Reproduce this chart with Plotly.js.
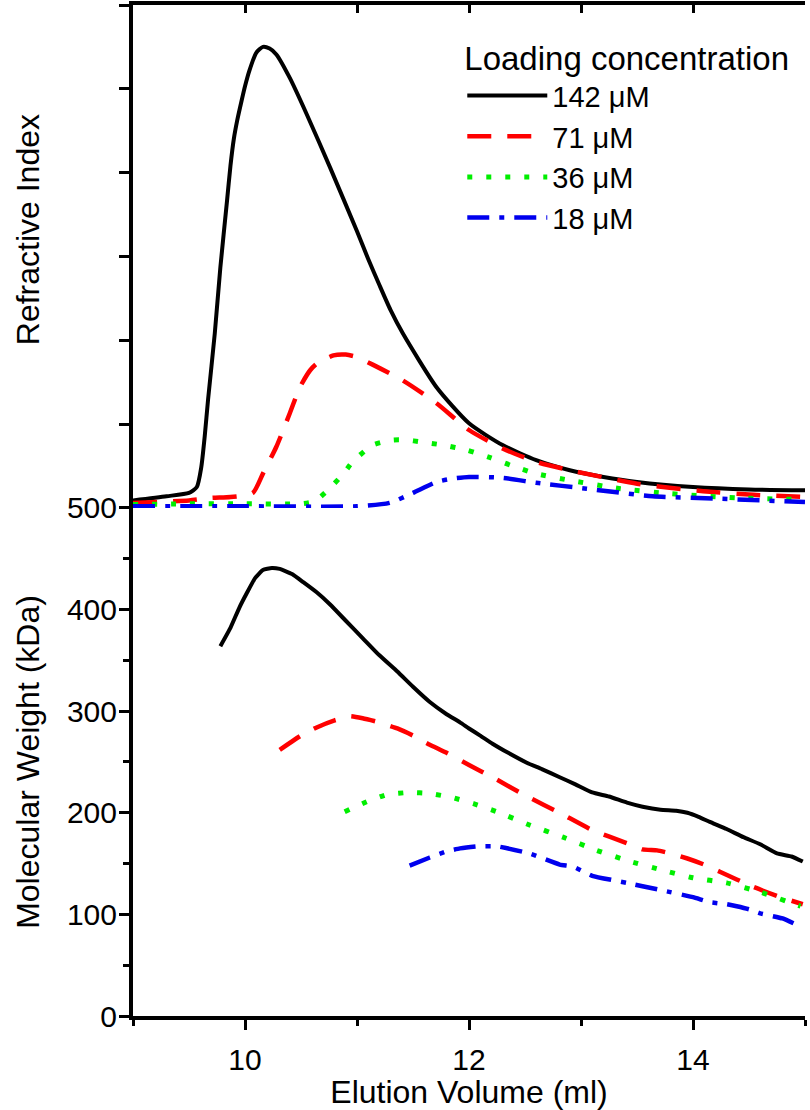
<!DOCTYPE html>
<html>
<head>
<meta charset="utf-8">
<script src="https://cdn.plot.ly/plotly-3.0.1.min.js"></script>
<style>
  html, body { margin: 0; padding: 0; background: #fff; }
  #chart { width: 810px; height: 1110px; }
</style>
</head>
<body>
<div id="chart"></div>
<script>
// ---------- Data ----------
const seriesNames = ['142 μM', '71 μM', '36 μM', '18 μM'];

// Top panel: refractive index (arbitrary units, tick spacing = 1)
const ri_x_142 = [9.0, 9.3, 9.5, 9.57, 9.61, 9.64, 9.67, 9.73, 9.78, 9.84, 9.87, 9.9, 9.93, 9.97, 10.0, 10.04, 10.1, 10.16, 10.22, 10.28, 10.4, 10.55, 10.76, 11.0, 11.1, 11.2, 11.3, 11.41, 11.71, 12.0, 12.3, 12.6, 12.9, 13.2, 13.5, 14.0, 14.5, 15.0];
const ri_y_142 = [0.09, 0.14, 0.18, 0.25, 0.49, 0.85, 1.29, 2.08, 2.87, 3.67, 4.08, 4.40, 4.62, 4.86, 5.03, 5.22, 5.43, 5.50, 5.48, 5.41, 5.13, 4.70, 4.06, 3.30, 2.97, 2.66, 2.36, 2.08, 1.44, 1.01, 0.75, 0.57, 0.45, 0.37, 0.31, 0.25, 0.22, 0.21];

const ri_x_71 = [9.0, 9.5, 9.7, 9.87, 10.07, 10.16, 10.28, 10.40, 10.49, 10.58, 10.64, 10.79, 10.9, 11.0, 11.14, 11.41, 11.71, 12.0, 12.3, 12.6, 12.9, 13.5, 14.09, 14.5, 15.0];
const ri_y_71 = [0.06, 0.09, 0.12, 0.13, 0.18, 0.41, 0.73, 1.13, 1.44, 1.64, 1.72, 1.82, 1.83, 1.80, 1.71, 1.52, 1.25, 0.93, 0.71, 0.55, 0.45, 0.29, 0.20, 0.16, 0.13];

const ri_x_36 = [9.0, 9.5, 10.0, 10.5, 10.62, 10.73, 10.88, 10.96, 11.14, 11.32, 11.45, 11.56, 11.77, 11.98, 12.19, 12.37, 12.6, 12.9, 13.35, 13.8, 14.39, 15.0];
const ri_y_36 = [0.04, 0.05, 0.05, 0.05, 0.08, 0.20, 0.41, 0.55, 0.75, 0.81, 0.81, 0.79, 0.75, 0.69, 0.60, 0.51, 0.41, 0.33, 0.23, 0.17, 0.12, 0.10];

const ri_x_18 = [9.0, 10.0, 11.0, 11.29, 11.5, 11.71, 11.85, 12.0, 12.3, 12.6, 13.05, 13.64, 14.24, 15.0];
const ri_y_18 = [0.02, 0.02, 0.02, 0.06, 0.18, 0.31, 0.35, 0.37, 0.36, 0.30, 0.23, 0.14, 0.11, 0.07];

// Bottom panel: molecular weight (kDa)
const mw_x_142 = [9.78, 9.87, 9.95, 10.02, 10.09, 10.16, 10.24, 10.31, 10.42, 10.52, 10.64, 10.76, 10.9, 11.05, 11.2, 11.36, 11.5, 11.65, 11.8, 11.92, 12.0, 12.1, 12.21, 12.35, 12.52, 12.65, 12.81, 12.95, 13.1, 13.25, 13.41, 13.55, 13.71, 13.85, 13.95, 14.05, 14.15, 14.3, 14.45, 14.6, 14.75, 14.88, 14.98];
const mw_y_142 = [364, 382, 402, 417, 431, 439, 441, 440, 435, 427, 417, 405, 389, 372, 355, 339, 324, 309, 297, 289, 283, 276, 268, 259, 249, 243, 235, 228, 220, 216, 210, 206, 203, 202, 200, 196, 191, 184, 176, 169, 160, 157, 152];

const mw_x_71 = [10.31, 10.5, 10.64, 10.8, 10.94, 11.05, 11.2, 11.36, 11.5, 11.65, 11.8, 12.0, 12.21, 12.52, 12.81, 13.1, 13.41, 13.55, 13.68, 13.8, 13.95, 14.1, 14.24, 14.54, 14.78, 14.98];
const mw_y_71 = [262, 276, 284, 291, 295, 293, 289, 283, 276, 267, 259, 247, 235, 216, 200, 183, 170, 164, 163, 160, 155, 149, 142, 127, 117, 110];

const mw_x_36 = [10.89, 11.09, 11.27, 11.47, 11.65, 11.85, 12.04, 12.25, 12.54, 12.84, 13.14, 13.44, 13.71, 14.0, 14.3, 14.6, 14.96];
const mw_y_36 = [201, 211, 218, 220, 219, 215, 209, 201, 188, 176, 163, 152, 144, 136, 131, 122, 108];

const mw_x_18 = [11.47, 11.65, 11.8, 11.92, 12.07, 12.25, 12.54, 12.81, 12.93, 13.1, 13.41, 13.71, 14.0, 14.15, 14.3, 14.39, 14.5, 14.6, 14.8, 14.96];
const mw_y_18 = [148, 156, 162, 165, 167, 167, 160, 149, 147, 138, 131, 124, 117, 112, 110, 108, 105, 101, 96, 88];

const xTickVals = [10, 12, 14];
const mwTickVals = [0, 100, 200, 300, 400, 500];

// ---------- Styling ----------
const FONT = 'Liberation Sans, Arial, sans-serif';
const TICKSIZE = 30;
const TITLESIZE = 32;
const styles = [
  {color: '#000000', dash: 'solid', width: 4},
  {color: '#ff0000', dash: '24px,16px', width: 4.5},
  {color: '#00ee00', dash: '5px,14px', width: 5},
  {color: '#0000ee', dash: '22px,10px,5px,10px', width: 4.5}
];

const riX = [ri_x_142, ri_x_71, ri_x_36, ri_x_18];
const riY = [ri_y_142, ri_y_71, ri_y_36, ri_y_18];
const mwX = [mw_x_142, mw_x_71, mw_x_36, mw_x_18];
const mwY = [mw_y_142, mw_y_71, mw_y_36, mw_y_18];

const traces = [];
for (let i = 0; i < 4; i++) {
  traces.push({
    x: riX[i], y: riY[i], xaxis: 'x2', yaxis: 'y2',
    type: 'scatter', mode: 'lines', name: seriesNames[i],
    legendgroup: 'g' + i, showlegend: true,
    line: {color: styles[i].color, dash: styles[i].dash, width: styles[i].width, shape: 'spline', smoothing: 0.6},
    hoverinfo: 'skip'
  });
}
for (let i = 0; i < 4; i++) {
  traces.push({
    x: mwX[i], y: mwY[i], xaxis: 'x', yaxis: 'y',
    type: 'scatter', mode: 'lines', name: seriesNames[i],
    legendgroup: 'g' + i, showlegend: false,
    line: {color: styles[i].color, dash: styles[i].dash, width: styles[i].width, shape: 'spline', smoothing: 0.4},
    hoverinfo: 'skip'
  });
}

const split = 0.5025;
const axBase = {showgrid: false, zeroline: false, showline: true, linecolor: '#000', linewidth: 4,
                tickcolor: '#000', tickwidth: 3, mirror: false};

const layout = {
  width: 810, height: 1110,
  margin: {l: 133, r: 5, t: 5, b: 94},
  paper_bgcolor: '#fff', plot_bgcolor: 'rgba(0,0,0,0)',
  font: {family: FONT, size: TICKSIZE, color: '#000'},
  showlegend: true,
  legend: {
    x: 0.49, xanchor: 'left', y: 0.978, yanchor: 'top',
    bgcolor: 'rgba(0,0,0,0)', borderwidth: 0,
    font: {family: FONT, size: 29, color: '#000'},
    title: {text: 'Loading concentration', font: {family: FONT, size: 33, color: '#000'}},
    itemwidth: 80, tracegroupgap: 0, traceorder: 'normal'
  },
  annotations: [{
    text: 'Refractive Index', xref: 'paper', yref: 'paper',
    x: -0.156, y: 0.7774, xanchor: 'center', yanchor: 'middle',
    textangle: -90, showarrow: false,
    font: {family: FONT, size: TITLESIZE, color: '#000'}
  }],
  // bottom panel x axis
  xaxis: Object.assign({}, axBase, {
    domain: [0, 1], range: [9, 15], anchor: 'y',
    ticks: 'outside', ticklen: 10, tickmode: 'array', tickvals: xTickVals,
    ticklabelstandoff: 4,
    minor: {dtick: 1, tick0: 9, ticks: 'outside', ticklen: 6, tickwidth: 3, tickcolor: '#000'},
    tickfont: {family: FONT, size: TICKSIZE},
    title: {text: 'Elution Volume (ml)', font: {family: FONT, size: TITLESIZE}, standoff: 2}
  }),
  // divider line with inward ticks (top of bottom panel)
  xaxis3: Object.assign({}, axBase, {
    overlaying: 'x', anchor: 'y', side: 'top', range: [9, 15],
    ticks: 'inside', ticklen: 8, dtick: 1, tick0: 9, showticklabels: false
  }),
  // top panel x axis (top border)
  xaxis2: Object.assign({}, axBase, {
    domain: [0, 1], range: [9, 15], anchor: 'y2', side: 'top',
    ticks: 'inside', ticklen: 8, dtick: 1, tick0: 9, showticklabels: false
  }),
  // bottom panel y axis
  yaxis: Object.assign({}, axBase, {
    domain: [0, split], range: [0, 500], anchor: 'x',
    ticks: 'outside', ticklen: 10, tickmode: 'array', tickvals: mwTickVals,
    ticklabelstandoff: -4,
    minor: {dtick: 50, tick0: 0, ticks: 'outside', ticklen: 6, tickwidth: 3, tickcolor: '#000'},
    tickfont: {family: FONT, size: TICKSIZE},
    title: {text: 'Molecular Weight (kDa)', font: {family: FONT, size: TITLESIZE}, standoff: 19}
  }),
  yaxis3: Object.assign({}, axBase, {
    overlaying: 'y', anchor: 'x', side: 'right', range: [0, 500],
    ticks: 'inside', ticklen: 8, dtick: 100, showticklabels: false,
    minor: {dtick: 50, ticks: 'inside', ticklen: 5, tickwidth: 3, tickcolor: '#000'}
  }),
  // top panel y axis
  yaxis2: Object.assign({}, axBase, {
    domain: [split, 1], range: [0, 6], anchor: 'x2',
    ticks: 'outside', ticklen: 10, dtick: 1, showticklabels: false
  }),
  yaxis4: Object.assign({}, axBase, {
    overlaying: 'y2', anchor: 'x2', side: 'right', range: [0, 6],
    ticks: 'inside', ticklen: 8, dtick: 1, showticklabels: false
  })
};

Plotly.newPlot('chart', traces, layout, {staticPlot: true, displayModeBar: false});
</script>
</body>
</html>
